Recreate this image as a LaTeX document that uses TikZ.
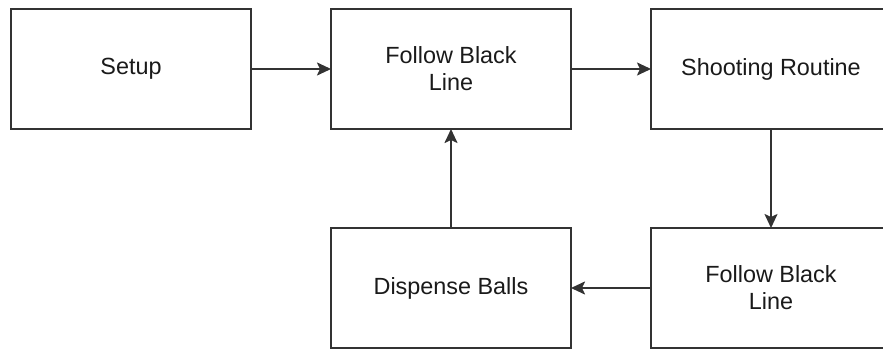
\documentclass[tikz,border=0pt]{standalone}
\usepackage{fontspec}
\setmainfont{Liberation Sans}
\usetikzlibrary{arrows.meta}
\definecolor{edge}{HTML}{333333}
\definecolor{ink}{HTML}{1A1A1A}
\tikzset{
  stepbox/.style={draw=edge, line width=2pt, fill=white, rectangle,
    minimum width=240pt, minimum height=120pt, inner sep=0pt,
    align=center, text=ink, font=\fontsize{23.4}{27}\selectfont},
  flow/.style={draw=edge, line width=2pt,
    -{Stealth[length=14pt, width=13pt, inset=3pt]}, shorten >=-1pt}
}
\begin{document}
\begin{tikzpicture}[x=1pt, y=-1pt]
  \useasboundingbox (0,0) rectangle (883,348);
  \clip (0,0) rectangle (883,348);
  \fill[white] (0,0) rectangle (883,348);
  % processing stages
  \node[stepbox] (setup)  at (131,69)  {Setup};
  \node[stepbox] (follow1) at (451,69) {Follow Black\\Line};
  \node[stepbox] (shoot)  at (771,69)  {Shooting Routine};
  \node[stepbox] (follow2) at (771,288) {Follow Black\\Line};
  \node[stepbox] (dispense) at (451,288) {Dispense Balls};
  % transitions
  \draw[flow] (setup.east) -- (follow1.west);
  \draw[flow] (follow1.east) -- (shoot.west);
  \draw[flow] (shoot.south) -- (follow2.north);
  \draw[flow] (follow2.west) -- (dispense.east);
  \draw[flow] (dispense.north) -- (follow1.south);
\end{tikzpicture}
\end{document}
